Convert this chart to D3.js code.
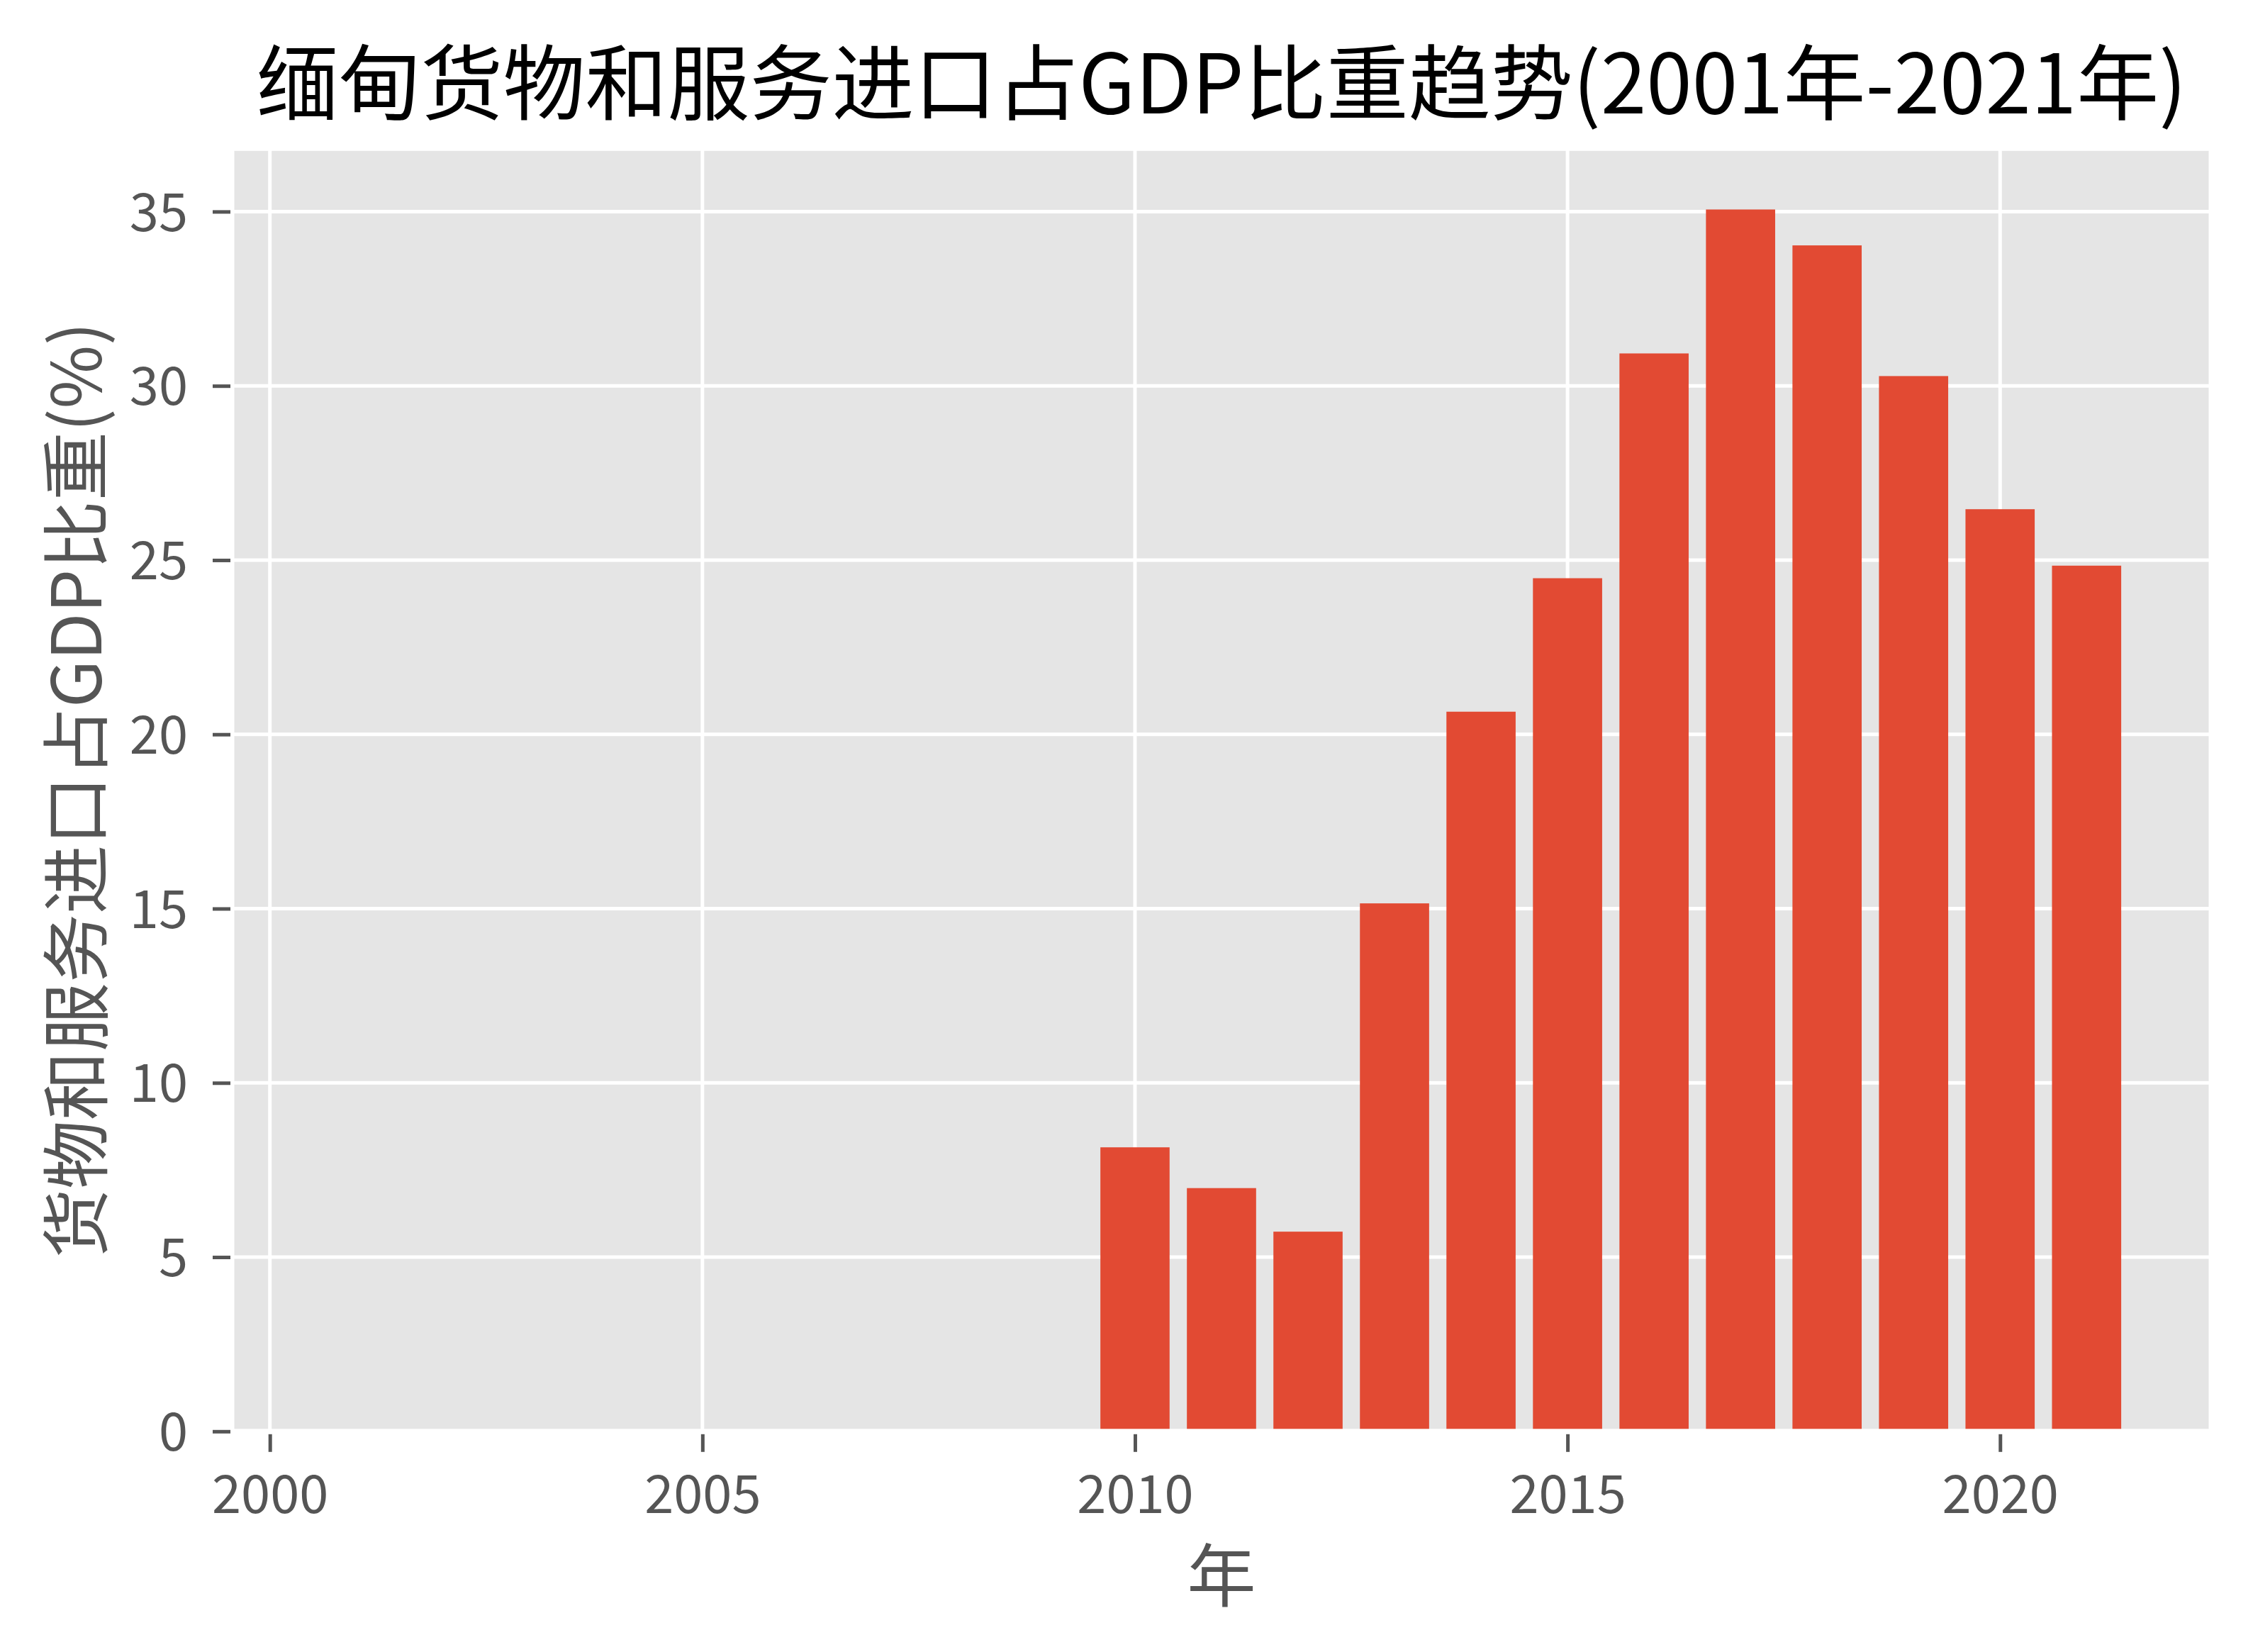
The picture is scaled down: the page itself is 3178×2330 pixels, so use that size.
<!DOCTYPE html>
<html>
<head>
<meta charset="utf-8">
<script src="https://cdn.jsdelivr.net/npm/d3@7"></script>
<style>
  html, body { margin: 0; padding: 0; background: #ffffff; }
  svg { display: block; }
</style>
</head>
<body>
<script>
// ---- data ----
const years = [2001, 2002, 2003, 2004, 2005, 2006, 2007, 2008, 2009, 2010,
               2011, 2012, 2013, 2014, 2015, 2016, 2017, 2018, 2019, 2020, 2021];
const importShare = [null, null, null, null, null, null, null, null, null, 8.15,
                     6.98, 5.73, 15.15, 20.65, 24.48, 30.93, 35.06, 34.03, 30.28, 26.46, 24.84];
const xTicks = [2000, 2005, 2010, 2015, 2020];
const yTicks = [0, 5, 10, 15, 20, 25, 30, 35];
const titleText = "缅甸货物和服务进口占GDP比重趋势(2001年-2021年)";
const xLabel = "年";
const yLabel = "货物和服务进口占GDP比重(%)";

// ---- layout ----
const W = 3178, H = 2330;
const mLeft = 327, mRight = 3119, mTop = 209.3, mBottom = 2018.8;
const barWidth = 0.8;
const font = "'Noto Sans CJK SC', 'Noto Sans', sans-serif";

const svg = d3.select("body").append("svg")
  .attr("width", W).attr("height", H)
  .style("font-family", font);

const data = years.map((yr, i) => ({ year: yr, value: importShare[i] }));
const valid = data.filter(d => d.value != null);
const yMax = d3.max(valid, d => d.value) * 1.05;
const xMin = d3.min(years) - barWidth / 2, xMaxv = d3.max(years) + barWidth / 2;
const pad = (xMaxv - xMin) * 0.05;

const x = d3.scaleLinear().domain([xMin - pad, xMaxv + pad]).range([mLeft, mRight]);
const y = d3.scaleLinear().domain([0, yMax]).range([mBottom, mTop]);

// axes background
svg.append("rect")
  .attr("x", mLeft).attr("y", mTop)
  .attr("width", mRight - mLeft).attr("height", mBottom - mTop)
  .attr("fill", "#E5E5E5");

// grid
svg.append("g").selectAll("line").data(xTicks).join("line")
  .attr("x1", d => x(d)).attr("x2", d => x(d))
  .attr("y1", mTop).attr("y2", mBottom)
  .attr("stroke", "#ffffff").attr("stroke-width", 5);
svg.append("g").selectAll("line").data(yTicks).join("line")
  .attr("x1", mLeft).attr("x2", mRight)
  .attr("y1", d => y(d)).attr("y2", d => y(d))
  .attr("stroke", "#ffffff").attr("stroke-width", 5);

// bars
svg.append("g").selectAll("rect").data(valid).join("rect")
  .attr("x", d => x(d.year - barWidth / 2))
  .attr("width", d => x(d.year + barWidth / 2) - x(d.year - barWidth / 2))
  .attr("y", d => y(d.value))
  .attr("height", d => y(0) - y(d.value))
  .attr("fill", "#E24A33");

// white frame
svg.append("rect")
  .attr("x", mLeft).attr("y", mTop)
  .attr("width", mRight - mLeft).attr("height", mBottom - mTop)
  .attr("fill", "none").attr("stroke", "#ffffff").attr("stroke-width", 7);

// x axis
const gx = svg.append("g").attr("transform", `translate(0,${mBottom + 4})`)
  .call(d3.axisBottom(x).tickValues(xTicks).tickFormat(d3.format("d")).tickSize(25));
gx.select(".domain").remove();
gx.selectAll(".tick line").attr("stroke", "#555555").attr("stroke-width", 5);
gx.selectAll(".tick text")
  .attr("y", 111).attr("dy", "0")
  .attr("fill", "#555555")
  .style("font-size", "74px").style("font-family", font);

// y axis
const gy = svg.append("g").attr("transform", `translate(${mLeft - 2},0)`)
  .call(d3.axisLeft(y).tickValues(yTicks).tickFormat(d3.format("d")).tickSize(25));
gy.select(".domain").remove();
gy.selectAll(".tick line").attr("stroke", "#555555").attr("stroke-width", 5);
gy.selectAll(".tick text")
  .attr("x", -60).attr("dy", "0.36em")
  .attr("fill", "#555555")
  .style("font-size", "74px").style("font-family", font);

// title
svg.append("text")
  .attr("x", (mLeft + mRight) / 2).attr("y", 160)
  .attr("text-anchor", "middle")
  .attr("fill", "#000000")
  .style("font-size", "116px")
  .text(titleText);

// x label
svg.append("text")
  .attr("x", (mLeft + mRight) / 2).attr("y", 2258)
  .attr("text-anchor", "middle")
  .attr("fill", "#555555")
  .style("font-size", "97px")
  .text(xLabel);

// y label
svg.append("text")
  .attr("transform", `translate(143,${(mTop + mBottom) / 2}) rotate(-90)`)
  .attr("text-anchor", "middle")
  .attr("fill", "#555555")
  .style("font-size", "97px")
  .text(yLabel);
</script>
</body>
</html>
